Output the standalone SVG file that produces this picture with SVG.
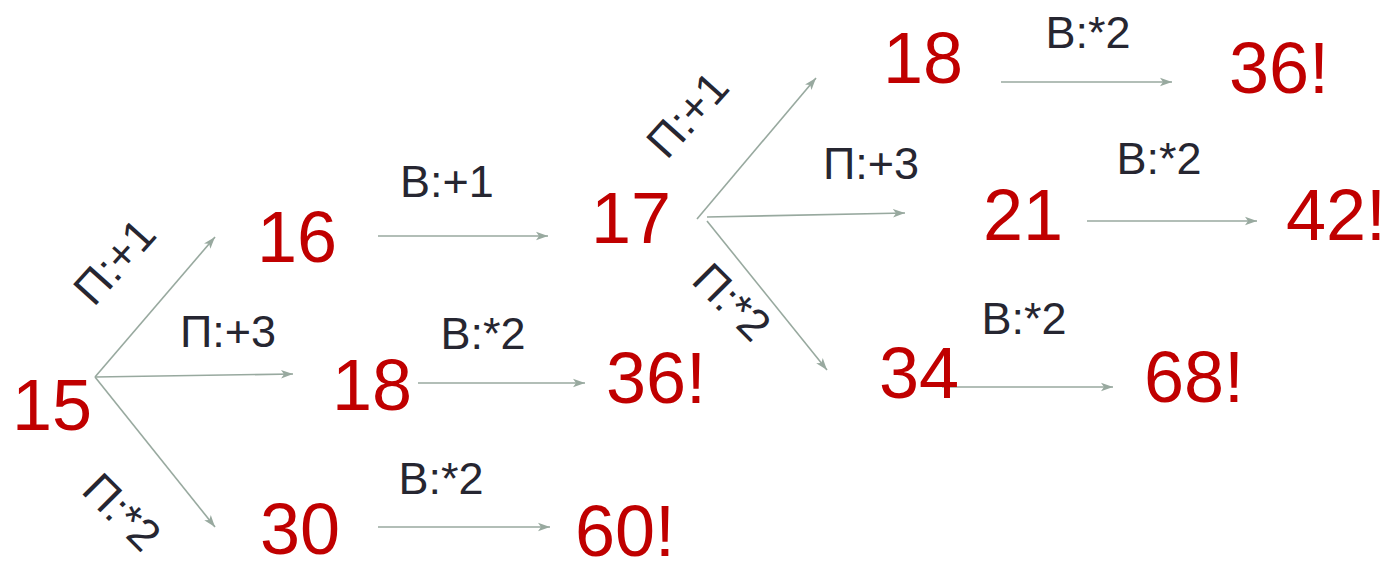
<svg xmlns="http://www.w3.org/2000/svg" width="1394" height="561" viewBox="0 0 1394 561">
<style>
.n{font-family:"Liberation Sans",Arial,sans-serif;font-size:72px;fill:#c00000}
.l{font-family:"Liberation Sans",Arial,sans-serif;font-size:45px;fill:#262631}
.c{stroke:#98a99f;stroke-width:1.6;fill:none;marker-end:url(#ah)}
</style>
<defs>
<marker id="ah" markerUnits="userSpaceOnUse" markerWidth="14" markerHeight="10" refX="12" refY="5" orient="auto">
<path d="M0,0.8 L12,5 L0,9.2 L3,5 Z" fill="#98a99f"/>
</marker>
</defs>
<rect width="1394" height="561" fill="#fff"/>
<g id="connectors">
<line class="c" x1="95" y1="377" x2="215" y2="237"/>
<line class="c" x1="95" y1="377" x2="293" y2="374"/>
<line class="c" x1="95" y1="377" x2="215" y2="527"/>
<line class="c" x1="378" y1="236" x2="548" y2="236"/>
<line class="c" x1="418" y1="383" x2="585" y2="383"/>
<line class="c" x1="378" y1="527" x2="550" y2="527"/>
<line class="c" x1="697" y1="219" x2="816" y2="78"/>
<line class="c" x1="707" y1="217" x2="905" y2="213"/>
<line class="c" x1="707" y1="221" x2="827" y2="370"/>
<line class="c" x1="1001" y1="82" x2="1172" y2="82"/>
<line class="c" x1="1087" y1="221" x2="1257" y2="221"/>
<line class="c" x1="942" y1="387" x2="1113" y2="387"/>
</g>
<g id="labels">
<text class="l" transform="translate(126,272) rotate(-48)" text-anchor="middle">П:+1</text>
<text class="l" x="228" y="347" text-anchor="middle">П:+3</text>
<text class="l" transform="translate(111,523) rotate(45)" text-anchor="middle">П:*2</text>
<text class="l" x="447" y="197" text-anchor="middle">В:+1</text>
<text class="l" x="483" y="349" text-anchor="middle">В:*2</text>
<text class="l" x="441" y="494" text-anchor="middle">В:*2</text>
<text class="l" transform="translate(699,125) rotate(-48)" text-anchor="middle">П:+1</text>
<text class="l" x="871" y="179" text-anchor="middle">П:+3</text>
<text class="l" transform="translate(721,313) rotate(45)" text-anchor="middle">П:*2</text>
<text class="l" x="1088" y="48" text-anchor="middle">В:*2</text>
<text class="l" x="1159" y="174" text-anchor="middle">В:*2</text>
<text class="l" x="1024" y="334" text-anchor="middle">В:*2</text>
</g>
<g id="n15"><text class="n" x="52" y="430" text-anchor="middle">15</text></g>
<g id="n16"><text class="n" x="297" y="262" text-anchor="middle">16</text></g>
<g id="n18a"><text class="n" x="372" y="410" text-anchor="middle">18</text></g>
<g id="n36a"><text class="n" x="656" y="403" text-anchor="middle">36!</text></g>
<g id="n30"><text class="n" x="300" y="554" text-anchor="middle">30</text></g>
<g id="n60"><text class="n" x="625" y="556" text-anchor="middle">60!</text></g>
<g id="n17"><text class="n" x="631" y="243" text-anchor="middle">17</text></g>
<g id="n18b"><text class="n" x="923" y="83" text-anchor="middle">18</text></g>
<g id="n36b"><text class="n" x="1279" y="93" text-anchor="middle">36!</text></g>
<g id="n21"><text class="n" x="1023" y="240" text-anchor="middle">21</text></g>
<g id="n42"><text class="n" x="1336" y="240" text-anchor="middle">42!</text></g>
<g id="n34"><text class="n" x="919" y="398" text-anchor="middle">34</text></g>
<g id="n68"><text class="n" x="1194" y="402" text-anchor="middle">68!</text></g>
</svg>
